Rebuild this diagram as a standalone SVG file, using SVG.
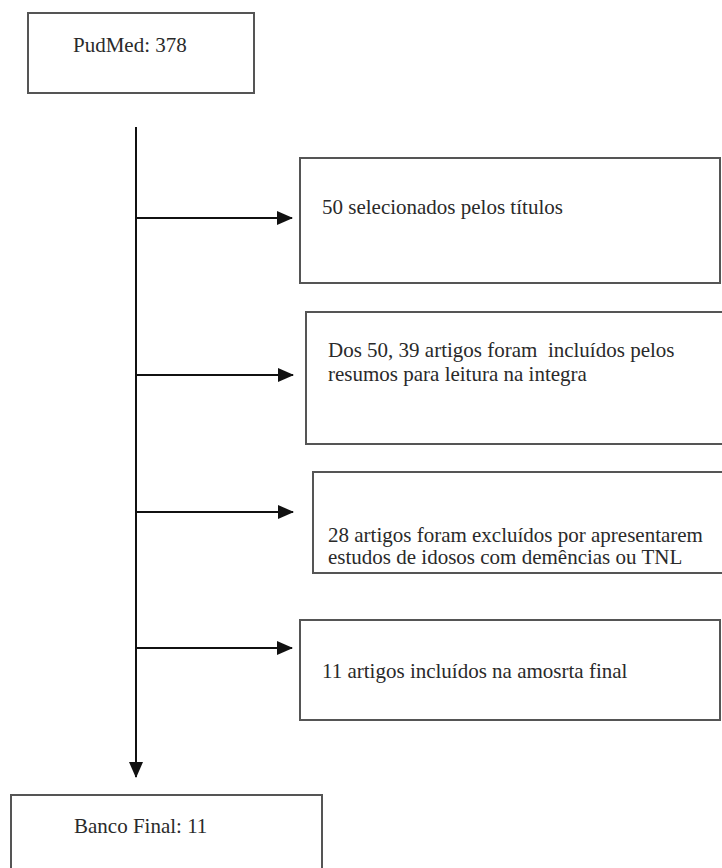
<svg xmlns="http://www.w3.org/2000/svg" width="722" height="868" viewBox="0 0 722 868">
<style>
.box{fill:#fff;stroke:#555;stroke-width:2}
.t{font-family:"Liberation Serif","Times New Roman",serif;font-size:21px;fill:#2a2a2a}
.c{stroke:#111;stroke-width:2;fill:none}
</style>
<defs>
<marker id="ah" markerWidth="16" markerHeight="14" refX="15" refY="7" orient="auto" markerUnits="userSpaceOnUse" viewBox="0 0 16 14">
<path d="M0,0 L16,7 L0,14 z" fill="#111"/>
</marker>
</defs>
<rect width="722" height="868" fill="#fff"/>
<g id="n1"><rect class="box" x="28" y="13" width="226" height="80"/><text class="t" x="73" y="52">PudMed: 378</text></g>
<g id="n2"><rect class="box" x="300" y="158" width="420" height="125"/><text class="t" x="322" y="214">50 selecionados pelos títulos</text></g>
<g id="n3"><rect class="box" x="306" y="312" width="418" height="132"/><text class="t" x="328" y="357" xml:space="preserve">Dos 50, 39 artigos foram  incluídos pelos</text><text class="t" x="328" y="381">resumos para leitura na integra</text></g>
<g id="n4"><rect class="box" x="313" y="472" width="411" height="101"/><text class="t" x="328" y="542">28 artigos foram excluídos por apresentarem</text><text class="t" x="328" y="564">estudos de idosos com demências ou TNL</text></g>
<g id="n5"><rect class="box" x="300" y="620" width="420" height="100"/><text class="t" x="322" y="678">11 artigos incluídos na amosrta final</text></g>
<g id="n6"><rect class="box" x="11" y="795" width="311" height="80"/><text class="t" x="74" y="833">Banco Final: 11</text></g>
<g id="connectors">
<line class="c" x1="136" y1="127" x2="136" y2="777" marker-end="url(#ah)"/>
<line class="c" x1="136" y1="218" x2="292" y2="218" marker-end="url(#ah)"/>
<line class="c" x1="136" y1="375" x2="293" y2="375" marker-end="url(#ah)"/>
<line class="c" x1="136" y1="512" x2="293" y2="512" marker-end="url(#ah)"/>
<line class="c" x1="136" y1="648" x2="292" y2="648" marker-end="url(#ah)"/>
</g>
</svg>
